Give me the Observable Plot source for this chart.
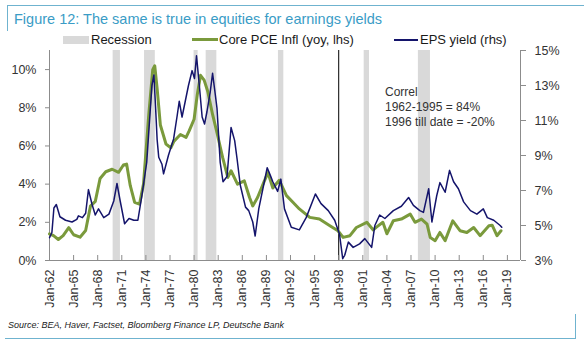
<!DOCTYPE html>
<html><head><meta charset="utf-8">
<script src="https://cdn.jsdelivr.net/npm/d3@7"></script>
<script src="https://cdn.jsdelivr.net/npm/@observablehq/plot@0.6"></script>
<style>
body{margin:0;background:#fff;font-family:"Liberation Sans",Arial,sans-serif;}
#wrap{position:relative;width:584px;height:350px;overflow:hidden;background:#fff;}
.abs{position:absolute;white-space:nowrap;}
.frame{position:absolute;background:#6fb3cf;}
#title{left:14px;top:11px;font-size:14.5px;color:#3a9cc6;}
.leg{font-size:13px;color:#1a1a1a;top:32px;}
#correl{left:385px;top:85px;font-size:12px;line-height:15px;color:#333;}
#source{left:8px;top:320px;font-size:9px;font-style:italic;color:#222;}
#chart{position:absolute;left:0;top:44px;}
</style></head><body>
<div id="wrap">
  <div class="frame" style="left:7px;top:5px;width:577px;height:1px"></div>
  <div class="frame" style="left:7px;top:5px;width:1px;height:26px"></div>
  <div class="frame" style="left:5px;top:338px;width:571px;height:1px"></div>
  <div class="frame" style="left:575px;top:314px;width:1px;height:25px"></div>
  <div id="title" class="abs">Figure 12: The same is true in equities for earnings yields</div>
  <div class="abs" style="left:63px;top:36px;width:26px;height:8px;background:#d9d9d9"></div>
  <div class="abs leg" style="left:91px">Recession</div>
  <div class="abs" style="left:192px;top:38px;width:26px;height:3px;background:#7a9a3c"></div>
  <div class="abs leg" style="left:219px">Core PCE Infl (yoy, lhs)</div>
  <div class="abs" style="left:394px;top:38.5px;width:24px;height:2px;background:#14146b"></div>
  <div class="abs leg" style="left:420px">EPS yield (rhs)</div>
  <div id="chart"></div>
  <div id="correl" class="abs">Correl<br>1962-1995 = 84%<br>1996 till date = -20%</div>
  <div id="source" class="abs">Source: BEA, Haver, Factset, Bloomberg Finance LP, Deutsche Bank</div>
</div>
<script>
// Core PCE inflation (yoy, %, left axis) — decimal years
const pceYears = [1962.0,1962.5,1963.1,1963.7,1964.4,1965.0,1965.8,1966.5,1967.1,1967.7,1968.3,1969.0,1969.8,1970.6,1971.2,1971.6,1972.05,1972.6,1973.2,1973.7,1974.35,1974.85,1975.1,1975.4,1975.8,1976.5,1977.1,1977.5,1978.3,1979.0,1979.4,1980.0,1980.4,1980.8,1981.25,1981.7,1982.3,1982.9,1983.55,1984.2,1984.6,1985.4,1986.25,1986.9,1987.3,1987.9,1988.75,1989.2,1989.8,1990.6,1991.5,1992.3,1993.1,1994.4,1995.6,1996.9,1997.9,1998.55,1999.4,2000.2,2001.5,2002.3,2002.7,2003.5,2004.0,2004.8,2005.8,2006.9,2007.5,2008.3,2009.0,2009.4,2010.0,2010.6,2011.25,2012.2,2013.1,2013.95,2014.8,2015.6,2016.7,2017.1,2017.7,2018.2];
const pceValues = [1.4,1.3,1.1,1.3,1.72,1.35,1.22,1.57,2.85,3.1,4.3,4.65,4.78,4.62,5.0,5.05,3.93,3.05,2.95,4.0,7.6,10.0,10.2,9.0,7.1,6.1,5.9,6.25,6.6,6.45,6.8,7.4,8.7,9.7,9.45,8.85,7.65,6.6,5.4,4.35,4.7,4.0,4.17,3.3,2.86,3.3,4.17,4.6,3.8,4.2,3.4,3.05,2.7,2.26,2.17,1.82,1.56,1.21,1.3,1.73,2.0,1.6,1.75,2.0,1.4,2.08,2.17,2.43,2.0,2.17,1.9,1.2,1.04,1.47,1.04,2.08,1.56,1.47,1.73,1.3,1.82,1.85,1.3,1.56];

// EPS yield (%, right axis) — decimal years
const epsYears = [1962.0,1962.3,1962.55,1962.85,1963.3,1964.0,1964.8,1965.4,1965.6,1966.1,1966.5,1966.85,1967.3,1967.7,1968.1,1968.75,1969.4,1970.0,1970.4,1970.8,1971.35,1971.9,1972.5,1973.0,1973.5,1974.1,1974.75,1975.0,1975.2,1975.4,1975.6,1976.0,1976.2,1976.8,1977.45,1977.9,1978.15,1978.5,1978.9,1979.3,1979.75,1980.05,1980.3,1980.65,1981.0,1981.3,1981.6,1982.0,1982.3,1982.55,1982.85,1983.25,1983.6,1984.1,1984.6,1985.05,1985.35,1985.75,1986.4,1986.8,1987.3,1987.6,1988.05,1988.65,1989.1,1989.5,1989.8,1990.4,1990.8,1991.25,1992.1,1993.1,1993.95,1995.1,1995.8,1996.7,1997.5,1998.1,1998.5,1998.75,1999.2,1999.8,2000.6,2001.25,2002.1,2002.5,2003.1,2003.75,2004.8,2005.8,2006.7,2007.3,2008.1,2008.55,2009.2,2009.6,2010.2,2010.6,2011.25,2011.8,2012.3,2012.9,2013.55,2014.4,2015.2,2016.0,2016.5,2017.3,2018.1,2018.3];
const epsValues = [4.3,4.6,6.0,6.2,5.5,5.3,5.2,5.35,5.55,5.45,5.7,7.05,6.2,5.6,5.95,5.45,5.65,6.4,7.4,6.4,5.1,5.4,5.3,5.3,6.7,8.6,13.0,13.6,11.8,9.9,8.9,8.5,7.95,9.0,9.95,11.3,12.1,11.2,12.1,13.0,13.85,13.4,14.7,13.0,11.2,10.8,11.5,12.6,13.7,12.8,11.7,8.6,7.5,7.8,10.6,9.85,8.8,7.3,6.05,5.85,5.2,4.4,5.95,7.3,8.3,7.85,7.5,6.95,7.65,5.95,4.9,4.75,5.45,6.8,6.25,5.85,5.3,4.5,3.1,3.3,4.05,3.75,3.95,4.25,3.75,5.0,5.6,5.4,5.85,6.1,6.6,6.15,5.85,5.75,7.1,5.2,6.7,7.45,6.9,8.15,7.5,7.1,6.35,5.85,5.65,5.95,5.45,5.3,5.0,4.9];

// US recessions (start, end) as decimal years
const recessionStarts = [1969.92,1973.83,1980.0,1981.5,1990.5,2001.17,2007.92];
const recessionEnds   = [1970.83,1975.17,1980.5,1982.83,1991.17,2001.83,2009.42];

// Break date marker
const breakYears = [1998.0];

// Axis ticks
const xTickYears = d3.range(1962, 2020, 3);
const leftTicks = [0,2,4,6,8,10];
const rightTicks = [3,5,7,9,11,13,15];
const leftDomain = [0, 11];
const rightDomain = [3, 15];
const xDomainYears = [1962.0, 2020.63];

const toDate = y => {
  const yr = Math.floor(y);
  const a = Date.UTC(yr,0,1), b = Date.UTC(yr+1,0,1);
  return new Date(a + (y - yr) * (b - a));
};
// map right-axis values onto the left scale
const r2l = v => (v - rightDomain[0]) / (rightDomain[1] - rightDomain[0]) * (leftDomain[1] - leftDomain[0]) + leftDomain[0];
const l2r = v => (v - leftDomain[0]) / (leftDomain[1] - leftDomain[0]) * (rightDomain[1] - rightDomain[0]) + rightDomain[0];

const pce = pceYears.map((y,i) => ({date: toDate(y), v: pceValues[i]}));
const eps = epsYears.map((y,i) => ({date: toDate(y), v: r2l(epsValues[i])}));
const rec = recessionStarts.map((s,i) => ({s: toDate(s), e: toDate(recessionEnds[i])}));
const xTicks = xTickYears.map(y => new Date(Date.UTC(y,0,1)));
const xDom = xDomainYears.map(toDate);
const fmt = d3.utcFormat("%b-%y");

const chart = Plot.plot({
  width: 584, height: 266,
  marginTop: 6, marginBottom: 50, marginLeft: 49, marginRight: 64,
  style: {fontFamily: "'Liberation Sans', Arial, sans-serif", fontSize: "12.5px", color: "#333", background: "transparent", overflow: "visible"},
  x: {type: "utc", domain: xDom},
  y: {domain: leftDomain},
  marks: [
    Plot.rect(rec, {x1: "s", x2: "e", fill: "#d9d9d9"}),
    Plot.ruleX(breakYears.map(toDate), {stroke: "#000", strokeWidth: 1}),
    Plot.ruleY([leftDomain[0]], {stroke: "#8c8c8c"}),
    Plot.ruleX([xDom[0]], {stroke: "#8c8c8c"}),
    Plot.ruleX([xDom[1]], {stroke: "#8c8c8c"}),
    Plot.lineY(pce, {x: "date", y: "v", stroke: "#7a9a3c", strokeWidth: 3, curve: "linear"}),
    Plot.lineY(eps, {x: "date", y: "v", stroke: "#14146b", strokeWidth: 1.5, curve: "linear"}),
    Plot.axisX(xTicks, {tickSize: 5, dy: -5, tickFormat: () => "", stroke: "#8c8c8c", label: null}),
    Plot.axisX(xTicks, {tickSize: 0, tickPadding: 9, tickRotate: -90, tickFormat: fmt, fill: "#333", label: null}),
    Plot.axisY(leftTicks, {anchor: "left", tickSize: 4, tickPadding: 9, tickFormat: d => d + "%", stroke: "#8c8c8c", fill: "#333", label: null}),
    Plot.axisY(rightTicks.map(r2l), {anchor: "right", tickSize: 5, tickPadding: 9, tickFormat: d => Math.round(l2r(d)) + "%", stroke: "#8c8c8c", fill: "#333", label: null})
  ]
});
document.getElementById("chart").appendChild(chart);
</script>
</body></html>
